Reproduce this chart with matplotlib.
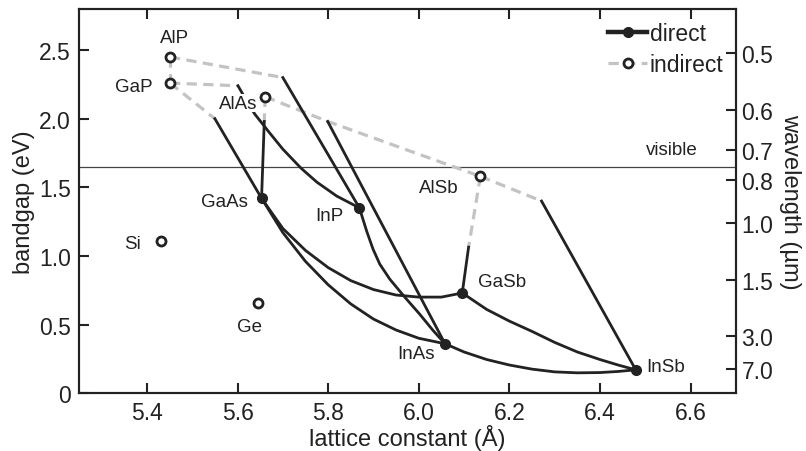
import matplotlib.pyplot as plt
from matplotlib.lines import Line2D

plt.rcParams['font.family'] = ['Liberation Sans', 'DejaVu Sans']

# binary semiconductors: lattice constant (Å) and bandgap (eV)
names = ['Si', 'Ge', 'AlP', 'GaP', 'AlAs', 'AlSb', 'GaAs', 'InP', 'GaSb', 'InAs', 'InSb']
lattice = [5.431, 5.646, 5.451, 5.451, 5.661, 6.136, 5.653, 5.869, 6.096, 6.058, 6.479]
bandgap = [1.11, 0.66, 2.45, 2.26, 2.16, 1.58, 1.42, 1.35, 0.73, 0.36, 0.17]
direct = [False, False, False, False, False, False, True, True, True, True, True]

# ternary alloys, indirect part of each branch (lattice, gap)
AlGaP_ind = ([5.451, 5.451], [2.45, 2.26])
AlInP_ind = ([5.451, 5.700], [2.45, 2.30])
GaInP_ind = ([5.451, 5.601], [2.26, 2.24])
GaAsP_ind = ([5.451, 5.550], [2.26, 2.00])
AlGaAs_ind = ([5.661, 5.659], [2.16, 1.98])
AlAsSb_ind = ([5.661, 5.799, 6.136], [2.16, 1.98, 1.58])
AlInSb_ind = ([6.136, 6.271], [1.58, 1.40])
AlGaSb_ind = ([6.136, 6.110], [1.58, 1.064])

# direct part of each branch
AlInP_dir = ([5.700, 5.869], [2.30, 1.35])
GaInP_dir = ([5.601, 5.620, 5.638, 5.670, 5.700, 5.740, 5.775, 5.819, 5.869],
             [2.24, 2.13, 2.034, 1.90, 1.778, 1.64, 1.538, 1.436, 1.35])
GaAsP_dir = ([5.550, 5.653], [2.00, 1.42])
AlGaAs_dir = ([5.659, 5.653], [1.98, 1.42])
AlInAs_dir = ([5.799, 6.058], [1.98, 0.36])
InAsP_dir = ([5.869, 5.885, 5.899, 5.914, 5.936, 5.969, 6.002, 6.031, 6.058],
             [1.35, 1.181, 1.050, 0.940, 0.831, 0.700, 0.576, 0.459, 0.36])
GaInAs_dir = ([5.653, 5.70, 5.75, 5.80, 5.85, 5.90, 5.95, 6.00, 6.058],
              [1.42, 1.17, 0.96, 0.79, 0.65, 0.54, 0.46, 0.40, 0.36])
GaAsSb_dir = ([5.653, 5.70, 5.75, 5.80, 5.85, 5.90, 5.95, 6.00, 6.05, 6.096],
              [1.42, 1.20, 1.04, 0.915, 0.82, 0.755, 0.715, 0.70, 0.70, 0.73])
GaInSb_dir = ([6.096, 6.15, 6.20, 6.25, 6.30, 6.35, 6.40, 6.44, 6.479],
              [0.73, 0.61, 0.525, 0.45, 0.37, 0.30, 0.245, 0.205, 0.17])
InAsSb_dir = ([6.058, 6.10, 6.15, 6.20, 6.25, 6.30, 6.35, 6.40, 6.44, 6.479],
              [0.36, 0.30, 0.245, 0.205, 0.175, 0.155, 0.148, 0.150, 0.158, 0.17])
AlInSb_dir = ([6.271, 6.479], [1.40, 0.17])
AlGaSb_dir = ([6.110, 6.096], [1.064, 0.73])

indirect_branches = [AlGaP_ind, AlInP_ind, GaInP_ind, GaAsP_ind, AlGaAs_ind,
                     AlAsSb_ind, AlInSb_ind, AlGaSb_ind]
direct_branches = [AlInP_dir, GaInP_dir, GaAsP_dir, AlGaAs_dir, AlInAs_dir, InAsP_dir,
                   GaInAs_dir, GaAsSb_dir, GaInSb_dir, InAsSb_dir, AlInSb_dir, AlGaSb_dir]

visible_edge = 1.65  # eV
wavelengths = [0.5, 0.6, 0.7, 0.8, 1.0, 1.5, 3.0, 7.0]  # µm

# label placement relative to each point
label_offset = {
    'Si': (-0.062, -0.017), 'Ge': (-0.019, -0.172), 'AlP': (0.011, 0.145),
    'GaP': (-0.080, -0.022), 'AlAs': (-0.060, -0.046), 'AlSb': (-0.092, -0.079),
    'GaAs': (-0.081, -0.021), 'InP': (-0.067, -0.053), 'GaSb': (0.087, 0.086),
    'InAs': (-0.065, -0.068), 'InSb': (0.066, 0.027),
}

gray = '#c3c3c3'
ink = '#222222'
dash = (0, (3.2, 2.0))

fig = plt.figure(figsize=(8.06, 4.52), dpi=100)
ax = fig.add_axes([0.098, 0.128, 0.815, 0.850])

for xs, ys in indirect_branches:
    ax.plot(xs, ys, color=gray, lw=2.3, linestyle=dash, solid_capstyle='butt', zorder=2)
for xs, ys in direct_branches:
    ax.plot(xs, ys, color=ink, lw=2.0, solid_joinstyle='round', zorder=3)

ax.axhline(visible_edge, color='#444444', lw=0.9, zorder=1)
ax.text(6.558, 1.778, 'visible', fontsize=13.5, color=ink, ha='center', va='center')

for name, a, eg, d in zip(names, lattice, bandgap, direct):
    if d:
        ax.plot(a, eg, 'o', color=ink, ms=7, zorder=5)
    else:
        ax.plot(a, eg, 'o', mfc='white', mec=ink, mew=2.0, ms=6.5, zorder=5)
    dx, dy = label_offset[name]
    kw = {}
    if name == 'AlAs':
        kw['bbox'] = dict(fc='white', ec='none', pad=0.6)
    ax.text(a + dx, eg + dy, name, fontsize=13.5, color=ink, ha='center', va='center',
            zorder=4, **kw)

ax.set_xlim(5.25, 6.7)
ax.set_ylim(0, 2.8)
ax.set_xticks([5.4, 5.6, 5.8, 6.0, 6.2, 6.4, 6.6])
ax.set_yticks([0, 0.5, 1.0, 1.5, 2.0, 2.5])
ax.set_yticklabels(['0', '0.5', '1.0', '1.5', '2.0', '2.5'])
ax.tick_params(direction='in', length=7, width=1.5, labelsize=16.5, colors=ink,
               top=True, pad=6)
ax.set_xlabel('lattice constant (Å)', fontsize=17, color=ink, labelpad=0)
ax.set_ylabel('bandgap (eV)', fontsize=17, color=ink, labelpad=3)
for s in ax.spines.values():
    s.set_linewidth(1.5)
    s.set_color(ink)

ax2 = ax.twinx()
ax2.set_ylim(ax.get_ylim())
ax2.set_yticks([1.24 / w for w in wavelengths])
ax2.set_yticklabels(['%.1f' % w for w in wavelengths])
ax2.tick_params(direction='in', length=7, width=1.5, labelsize=16.5, colors=ink, pad=4)
ax2.set_ylabel('wavelength (µm)', fontsize=17, color=ink, rotation=270, labelpad=20)
for s in ax2.spines.values():
    s.set_linewidth(1.5)
    s.set_color(ink)

handles = [
    Line2D([], [], color=ink, lw=3.2, marker='o', ms=7),
    Line2D([], [], color=gray, lw=2.3, linestyle=dash, marker='o', mfc='white',
           mec=ink, mew=2.0, ms=6.5),
]
ax.legend(handles, ['direct', 'indirect'], loc='upper right', frameon=False,
          fontsize=16.5, handlelength=1.7, handletextpad=0.1, labelspacing=0.35,
          borderaxespad=0.45, borderpad=0.1, labelcolor=ink)

fig.savefig('out.png', dpi=100)
